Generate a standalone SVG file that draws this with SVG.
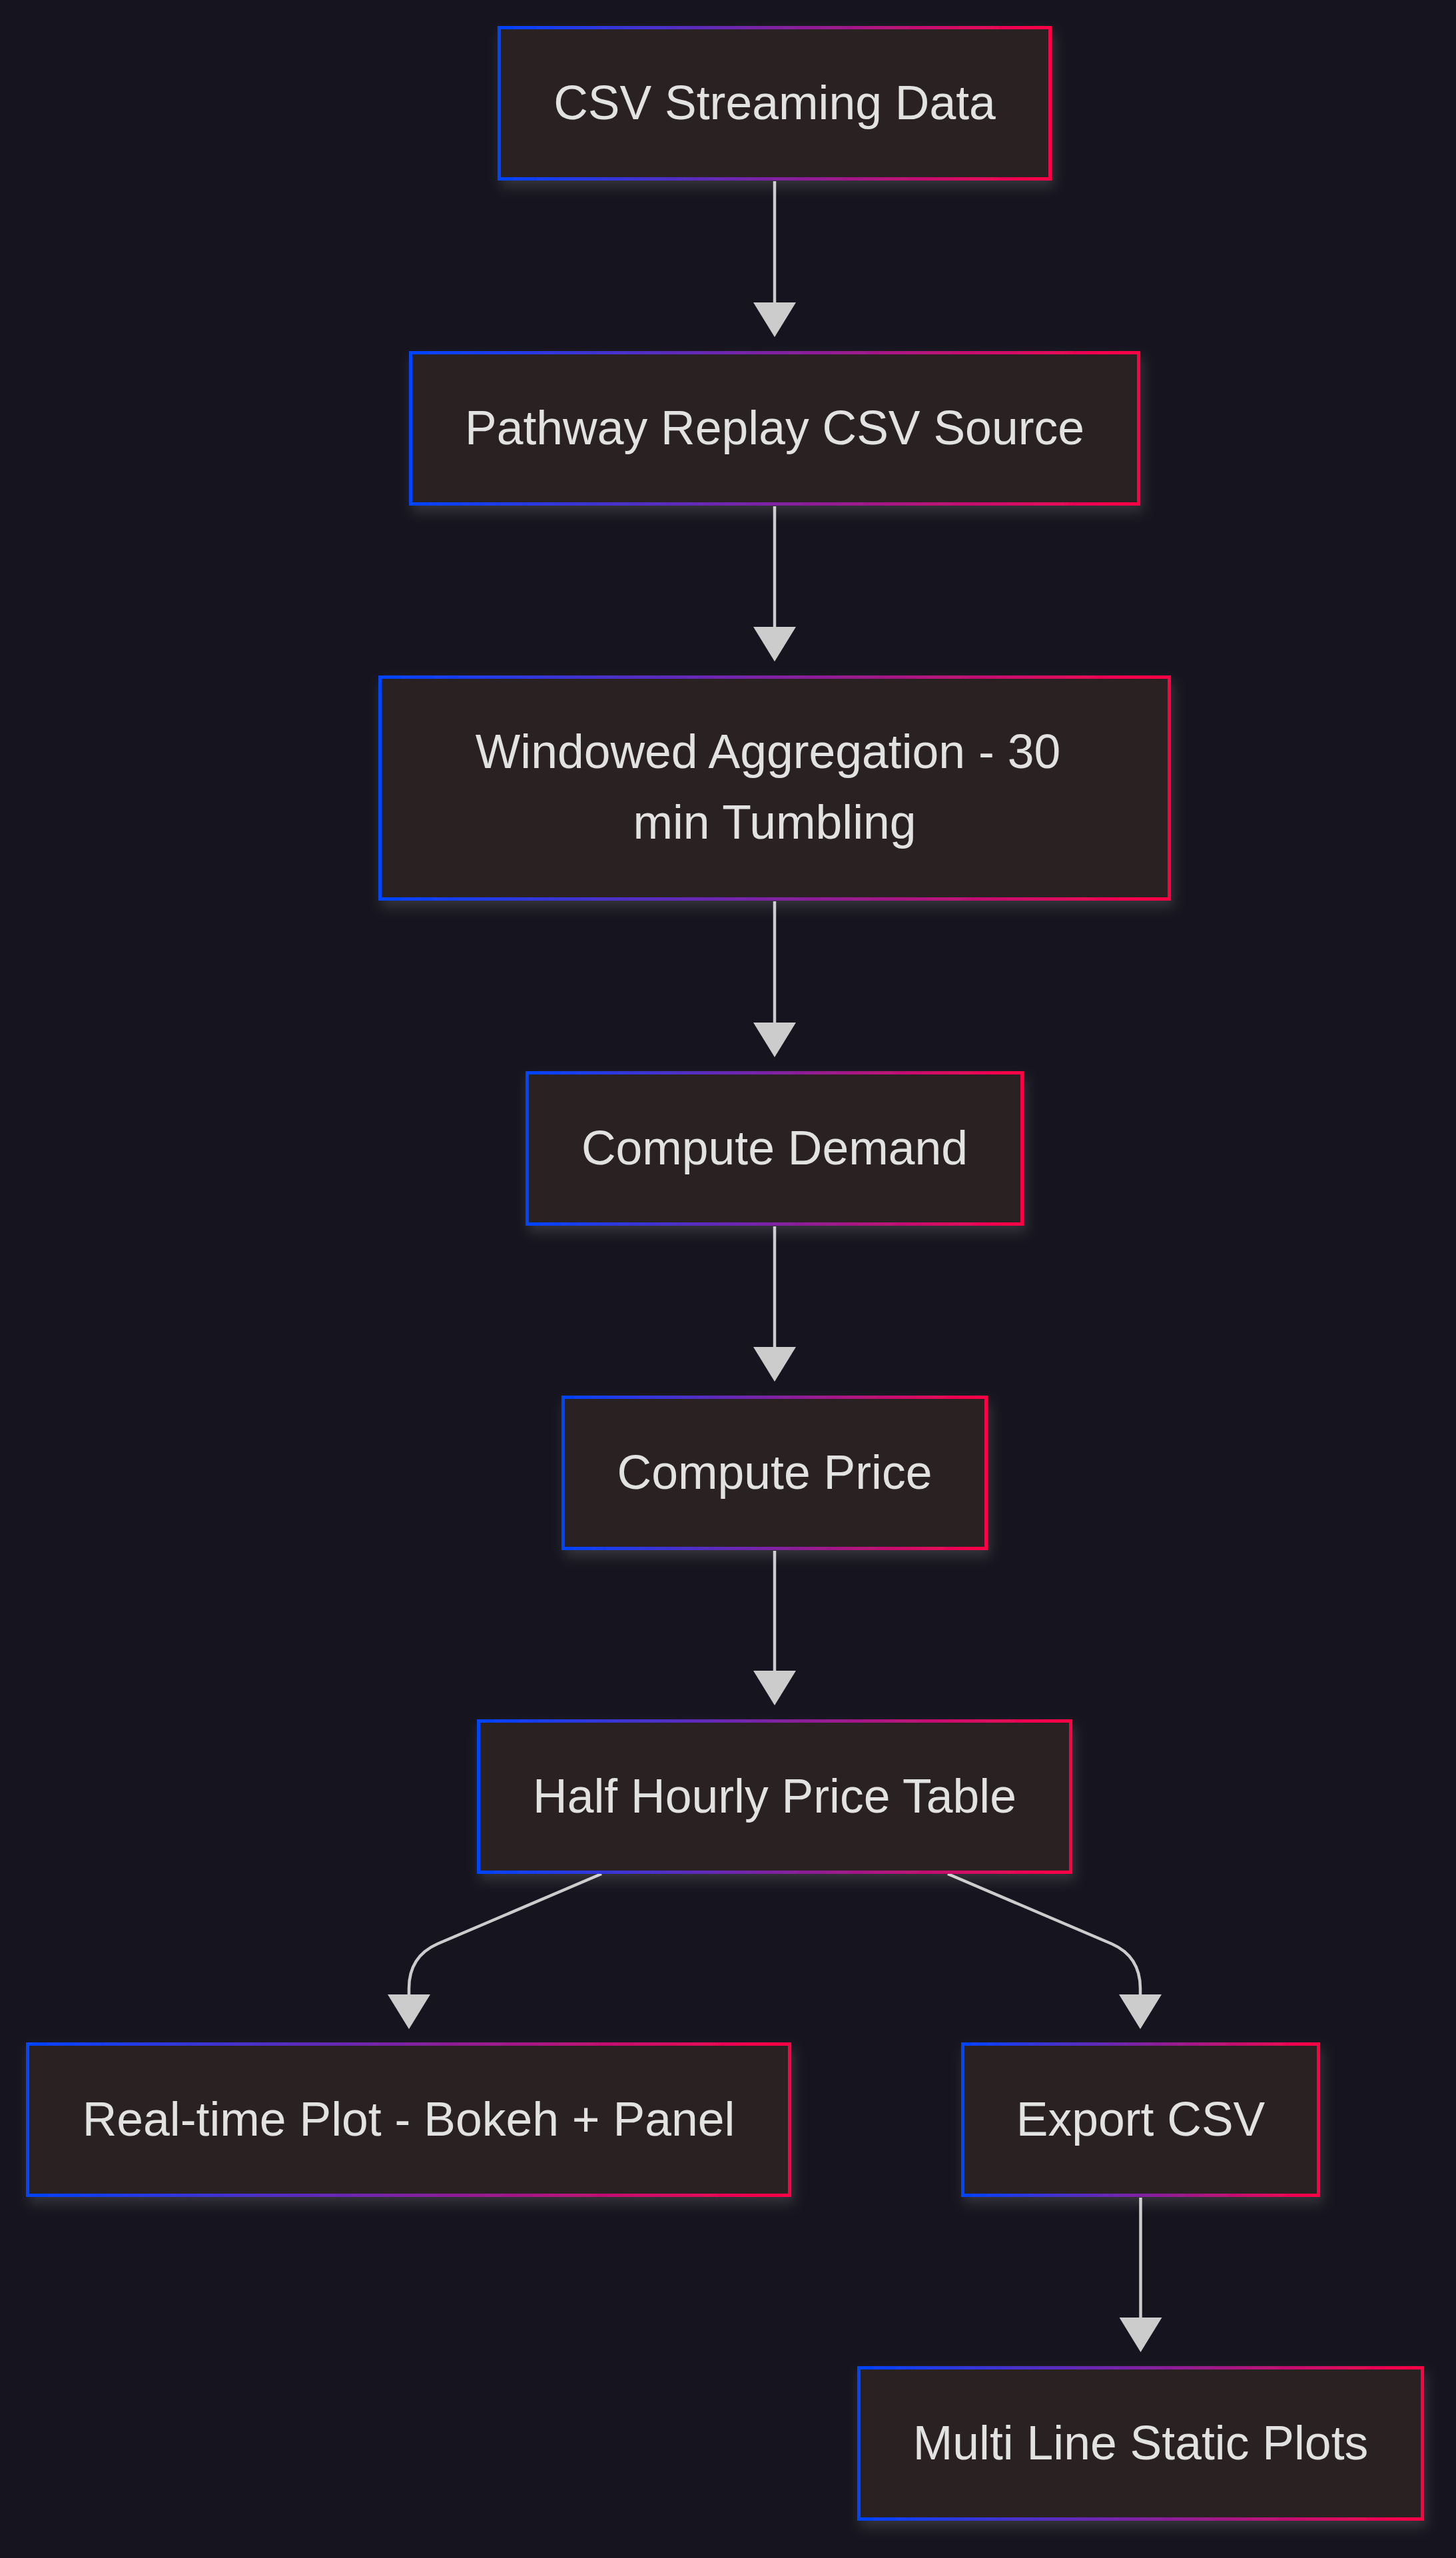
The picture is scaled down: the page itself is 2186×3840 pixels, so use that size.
<svg xmlns="http://www.w3.org/2000/svg" width="2186" height="3840" viewBox="0 0 2186 3840">
<style>
.node rect{fill:#2c2121;stroke:url(#border);stroke-width:5;filter:url(#shadow)}
.node text{font-family:"Liberation Sans",Arial,sans-serif;font-size:71.5px;fill:#e2e2e2;text-anchor:middle}
.edge{fill:none;stroke:#cccccc;stroke-width:4.5;marker-end:url(#arrow)}
</style>
<defs>
<linearGradient id="border" x1="0" y1="0" x2="1" y2="0">
<stop offset="0" stop-color="#0044ff"/>
<stop offset="1" stop-color="#ff0044"/>
</linearGradient>
<filter id="shadow" x="-10%" y="-20%" width="120%" height="150%">
<feDropShadow dx="4" dy="10" stdDeviation="9" flood-color="#ffffff" flood-opacity="0.13"/>
</filter>
<marker id="arrow" markerUnits="userSpaceOnUse" markerWidth="53" markerHeight="64" refX="0" refY="32" orient="auto" viewBox="0 0 53 64">
<path d="M0,0 L52,32 L0,64 Z" fill="#cccccc"/>
</marker>
</defs>
<rect width="2186" height="3840" fill="#16151f"/>
<g id="edges">
<path class="edge" d="M1163,272 L1163,454"/>
<path class="edge" d="M1163,760 L1163,941"/>
<path class="edge" d="M1163,1353 L1163,1535"/>
<path class="edge" d="M1163,1841 L1163,2022"/>
<path class="edge" d="M1163,2328 L1163,2508"/>
<path class="edge" d="M903,2813 L657,2918 C632,2929 614,2950 614,2985 L614,2994"/>
<path class="edge" d="M1423,2813 L1669,2918 C1694,2929 1712,2950 1712,2985 L1712,2994"/>
<path class="edge" d="M1712.5,3299 L1712.5,3479"/>
</g>
<g id="n1" class="node"><rect x="749.5" y="41.5" width="827" height="227"/><text x="1163" y="179">CSV Streaming Data</text></g>
<g id="n2" class="node"><rect x="616.5" y="529.5" width="1093" height="227"/><text x="1163" y="667">Pathway Replay CSV Source</text></g>
<g id="n3" class="node"><rect x="570.5" y="1016.5" width="1185" height="333"/><text x="1153" y="1153">Windowed Aggregation - 30</text><text x="1163" y="1259">min Tumbling</text></g>
<g id="n4" class="node"><rect x="791.5" y="1610.5" width="743" height="227"/><text x="1163" y="1748">Compute Demand</text></g>
<g id="n5" class="node"><rect x="845.5" y="2097.5" width="635" height="227"/><text x="1163" y="2235">Compute Price</text></g>
<g id="n6" class="node"><rect x="718.5" y="2583.5" width="889" height="227"/><text x="1163" y="2721">Half Hourly Price Table</text></g>
<g id="n7" class="node"><rect x="41.5" y="3068.5" width="1144" height="227"/><text x="613.5" y="3206">Real-time Plot - Bokeh + Panel</text></g>
<g id="n8" class="node"><rect x="1445.5" y="3068.5" width="534" height="227"/><text x="1712.5" y="3206">Export CSV</text></g>
<g id="n9" class="node"><rect x="1289.5" y="3554.5" width="846" height="227"/><text x="1712.5" y="3692">Multi Line Static Plots</text></g>
</svg>
